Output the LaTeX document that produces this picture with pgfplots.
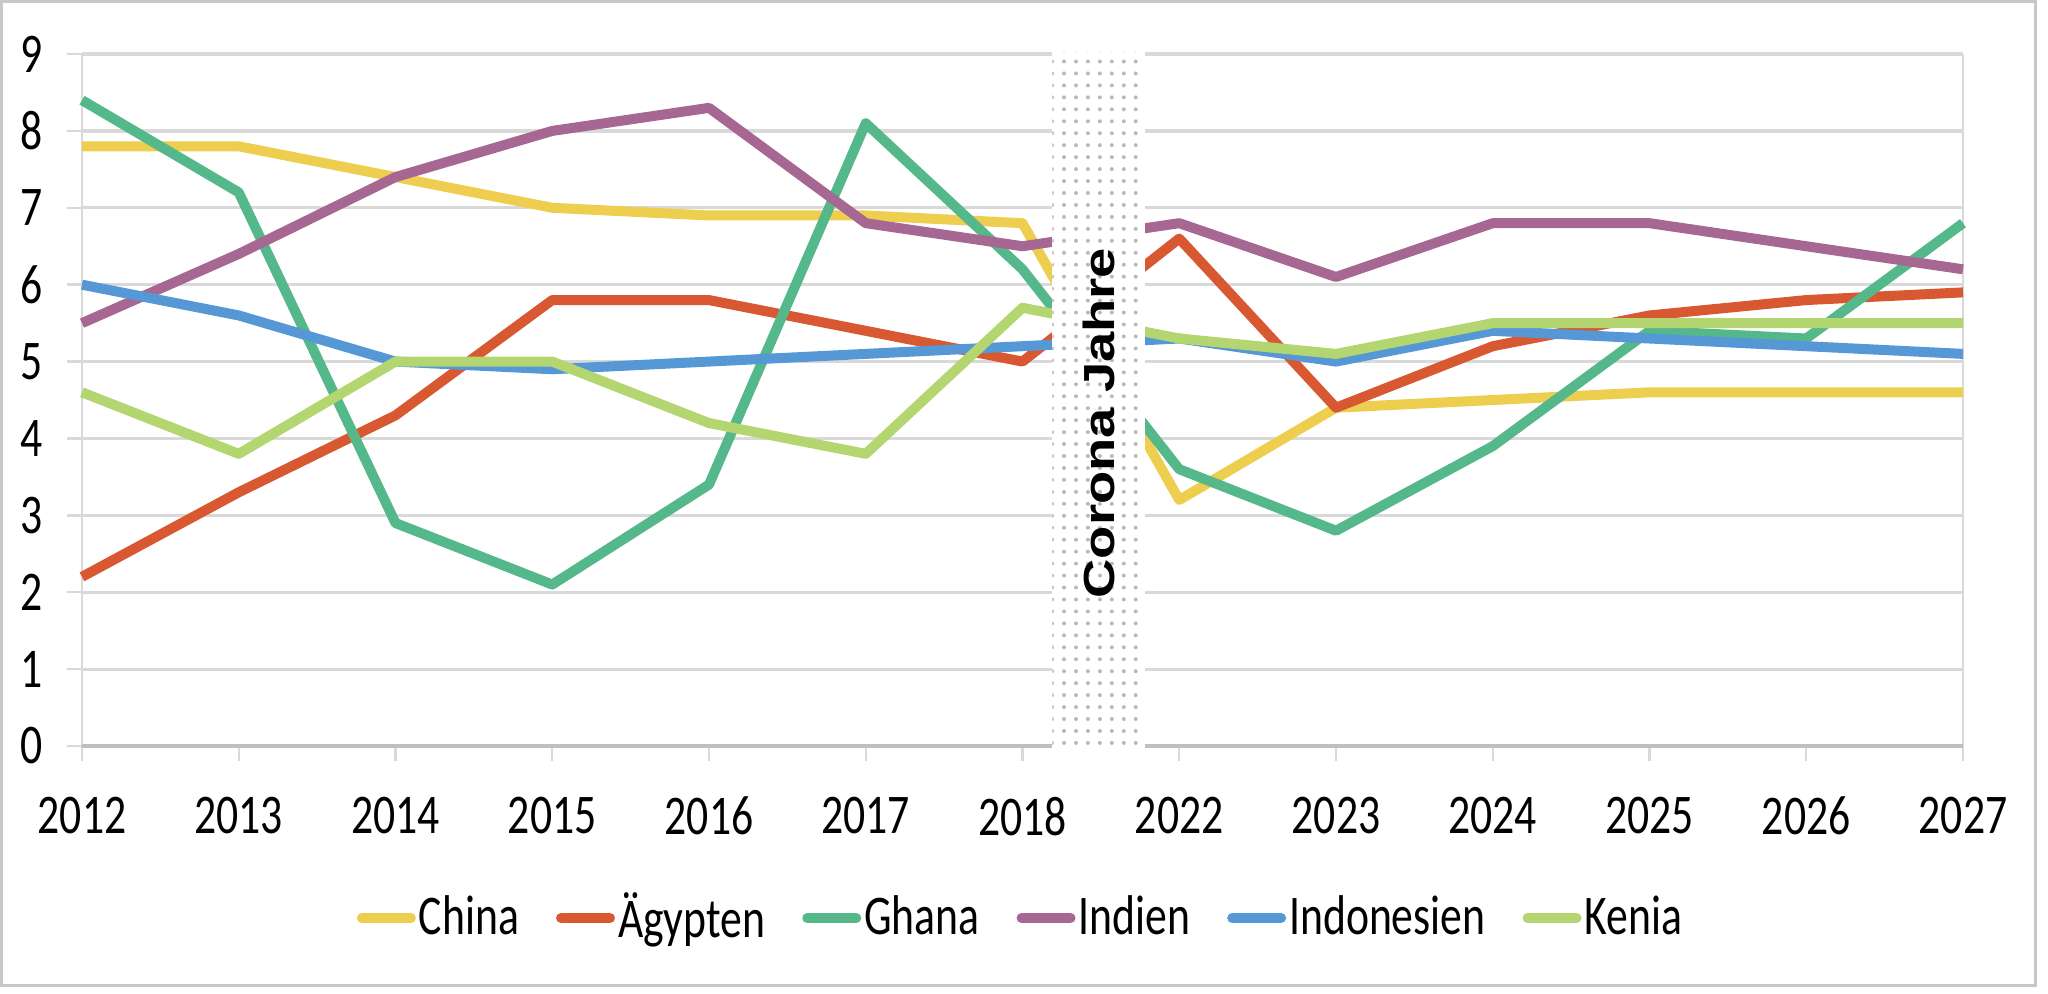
\documentclass[border=0pt]{standalone}
\usepackage{fontspec}
\setmainfont{Carlito}[FakeStretch=0.78]
\newfontfamily\corofont{Liberation Sans}
\usepackage{graphicx}
\usepackage{pgfplots}
\pgfplotsset{compat=1.18}
\usetikzlibrary{patterns}

\definecolor{cchina}{RGB}{238,206,78}
\definecolor{caegypten}{RGB}{216,88,50}
\definecolor{cghana}{RGB}{84,184,138}
\definecolor{cindien}{RGB}{166,104,146}
\definecolor{cindonesien}{RGB}{86,152,214}
\definecolor{ckenia}{RGB}{180,214,112}
\definecolor{gridgray}{RGB}{217,217,217}
\definecolor{axgray}{RGB}{191,191,191}
\definecolor{bordergray}{RGB}{200,200,200}
\definecolor{dotgray}{RGB}{185,185,185}

% idx 0..12 = 2012..2018, 2022..2027
\pgfplotstableread{
idx china aegypten ghana indien indonesien kenia
0  7.8 2.2 8.4 5.5 6.0 4.6
1  7.8 3.3 7.2 6.4 5.6 3.8
2  7.4 4.3 2.9 7.4 5.0 5.0
3  7.0 5.8 2.1 8.0 4.9 5.0
4  6.9 5.8 3.4 8.3 5.0 4.2
5  6.9 5.4 8.1 6.8 5.1 3.8
6  6.8 5.0 6.2 6.5 5.2 5.7
7  3.2 6.6 3.6 6.8 5.3 5.3
8  4.4 4.4 2.8 6.1 5.0 5.1
9  4.5 5.2 3.9 6.8 5.4 5.5
10 4.6 5.6 5.4 6.8 5.3 5.5
11 4.6 5.8 5.3 6.5 5.2 5.5
12 4.6 5.9 6.8 6.2 5.1 5.5
}\growth

\begin{document}
\begin{tikzpicture}
\useasboundingbox (-20.5bp,-62bp) rectangle (491.5bp,186.5bp);
\draw[bordergray, line width=0.75bp] (-20bp,-59.75bp) rectangle (488.25bp,186bp);
\begin{axis}[
  at={(0,0)}, anchor=south west,
  scale only axis, width=470.25bp, height=173bp,
  xmin=0, xmax=12, ymin=0, ymax=9,
  clip=false,
  axis line style={draw=none},
  xtick={0,...,12},
  xticklabels={2012,2013,2014,2015,2016,2017,2018,2022,2023,2024,2025,2026,2027},
  ytick={0,...,9},
  ymajorgrids, grid style={gridgray, line width=0.8bp},
  tick align=outside, xtick pos=left, ytick pos=left,
  major tick length=3.75bp,
  tick style={gridgray, line width=0.6bp},
  ticklabel style={font=\fontsize{14bp}{16bp}\selectfont},
  /pgf/number format/assume math mode=true,
  xticklabel style={yshift=-5.5bp},
  yticklabel style={xshift=-2.5bp},
  legend columns=-1,
  legend style={draw=none, fill=none, at={(0.4992,-0.2486)}, anchor=center,
    font=\fontsize{14bp}{16bp}\selectfont, inner sep=0pt,
    nodes={inner sep=0.75bp},
    /tikz/every even column/.append style={column sep=8.5bp}},
  legend image code/.code={\draw[#1, line cap=round] (0bp,0bp) -- (12.25bp,0bp);},
  every axis plot/.append style={line width=2.5bp, line join=round},
]
\draw[gridgray, line width=0.6bp] (axis cs:0,0) -- (axis cs:0,9);
\draw[gridgray, line width=0.6bp] (axis cs:12,0) -- (axis cs:12,9);
\draw[axgray, line width=1bp] (axis cs:0,0) -- (axis cs:12,0);
\addplot[cchina] table[x=idx, y=china] {\growth};
\addplot[caegypten] table[x=idx, y=aegypten] {\growth};
\addplot[cghana] table[x=idx, y=ghana] {\growth};
\addplot[cindien] table[x=idx, y=indien] {\growth};
\addplot[cindonesien] table[x=idx, y=indonesien] {\growth};
\addplot[ckenia] table[x=idx, y=kenia] {\growth};
\legend{China,Ägypten,Ghana,Indien,Indonesien,Kenia}
\fill[white] (axis cs:6.19,-0.04) rectangle (axis cs:6.78,9.03);
\fill[pattern=dots, pattern color=dotgray] (axis cs:6.19,-0.04) rectangle (axis cs:6.78,9.03);
\node[rotate=90, inner sep=0pt, font=\corofont\bfseries\fontsize{13.6bp}{15bp}\selectfont]
  at (axis cs:6.485,4.2) {\scalebox{1}[0.8]{Corona Jahre}};
\end{axis}
\end{tikzpicture}
\end{document}
